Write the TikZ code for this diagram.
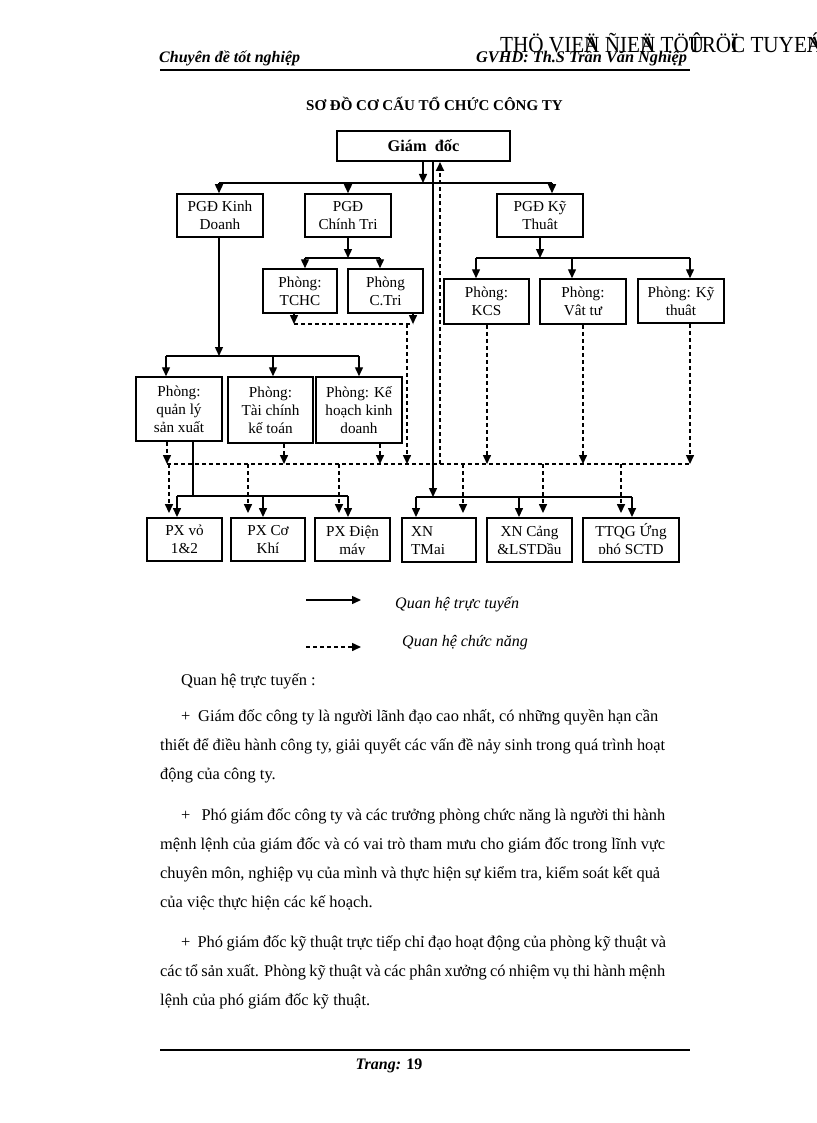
\documentclass[tikz,border=0pt]{standalone}
\usepackage{fontspec}
\setmainfont{Liberation Serif}
\usetikzlibrary{arrows.meta}
\newcommand\bxf{\fontsize{15.2}{18}\selectfont}
\newcommand\bdf{\fontsize{16.4}{29}\selectfont}
\begin{document}
\begin{tikzpicture}[x=1pt,y=-1pt,
  box/.style={draw, line width=1.5pt, inner sep=0pt, align=center, font=\bxf},
  bbox/.style={box, line width=1.9pt},
  txt/.style={inner sep=0pt, align=center, font=\bxf},
  sl/.style={line width=1.4pt},
  thin1/.style={line width=1.1pt},
  thk/.style={line width=2.3pt},
  dsh/.style={line width=1.5pt, dash pattern=on 4.2pt off 2.8pt},
  dshb/.style={line width=2pt, dash pattern=on 4.2pt off 2.8pt},
  arr/.style={-{Triangle[length=9pt,width=8pt]}},
  body/.style={inner sep=0pt, anchor=base west, font=\bdf}]
\useasboundingbox (0,0) rectangle (816,1123);
\fill[white] (0,0) rectangle (816,1123);

% ---------- header ----------
\node[anchor=base west, inner sep=0pt] (wm) at (500,53)
  {\scalebox{0.92}[1]{\fontsize{23}{24}\selectfont THÖ VIE\rlap{Ä}N ÑIE\rlap{Ä}N TÖ\rlap{Û}TRÖ\rlap{Ï}C TUYE\rlap{Á}N}};
\node[anchor=base west, inner sep=0pt] (h1) at (159,63)
  {\fontsize{16}{18}\selectfont\bfseries\itshape Chuyên đề tốt nghiệp};
\node[anchor=base west, inner sep=0pt] (h2) at (476,63)
  {\fontsize{16.3}{18}\selectfont\bfseries\itshape GVHD: Th.S Trần Văn Nghiệp};
\coordinate (hl) at (160,70); \coordinate (hr) at (690,70);
\draw[line width=2pt] (hl) -- (hr);

\node[anchor=base, inner sep=0pt] (title) at (434.5,111)
  {\fontsize{15}{18}\selectfont\bfseries SƠ ĐỒ CƠ CẤU TỔ CHỨC CÔNG TY};

% ---------- boxes ----------
\node[box, line width=2pt, minimum width=173pt, minimum height=30pt,
      font=\fontsize{16.3}{18}\selectfont\bfseries] (gd) at (423.5,146) {Giám\ \ đốc};

\node[box, minimum width=86pt, minimum height=43pt] (kd) at (220,215.5) {PGĐ Kinh\\Doanh};
\node[box, minimum width=86pt, minimum height=43pt] (ct) at (348,215.5) {PGĐ\\Chính Tri};
\node[box, minimum width=86pt, minimum height=43pt] (kt) at (540,215.5) {PGĐ Kỹ\\Thuât};

\node[box, minimum width=74pt, minimum height=44pt] (tchc) at (300,291) {Phòng:\\TCHC};
\node[box, minimum width=75pt, minimum height=44pt] (ctri) at (385.5,291) {Phòng\\C.Tri};

\node[box, minimum width=85pt, minimum height=45pt] (kcs) at (486.5,301.5) {Phòng:\\KCS};
\node[box, minimum width=86pt, minimum height=45pt] (vattu) at (583,301.5) {Phòng:\\Vât tư};
\node[box, minimum width=86pt, minimum height=44pt] (kythuat) at (681,301) {Phòng: Kỹ\\thuât};

\node[box, minimum width=86pt, minimum height=64pt] (qlsx) at (179,409) {Phòng:\\quản lý\\sản xuất};
\node[box, minimum width=85pt, minimum height=66pt] (tckt) at (270.5,410) {Phòng:\\Tài chính\\kế toán};
\node[box, minimum width=86pt, minimum height=66pt] (khkd) at (359,410) {Phòng: Kế\\hoạch kinh\\doanh};

\node[bbox, minimum width=75pt, minimum height=43pt] (pxvo) at (184.5,539.5) {PX vỏ\\1\&2};
\node[bbox, minimum width=74pt, minimum height=43pt] (pxck) at (268,539.5) {PX Cơ\\Khí};
\node[bbox, minimum width=75pt, minimum height=43pt] (pxdm) at (352.5,539.5) {};
\node[bbox, minimum width=74pt, minimum height=44pt] (xntm) at (439,540) {};
\node[bbox, minimum width=85pt, minimum height=44pt] (xnc) at (529.5,540) {};
\node[bbox, minimum width=96pt, minimum height=44pt] (ttqg) at (631,540) {};

\node[txt, anchor=west, align=left] (xntm-t) at (411,540.5) {XN\\TMai};
\begin{scope}
  \clip (315,518) rectangle (390,554);
  \node[txt] (pxdm-t) at (352.5,542) {PX Điện\\máy};
\end{scope}
\begin{scope}
  \clip (487,518) rectangle (572,553);
  \node[txt] (xnc-t) at (529.5,540.5) {XN Cảng\\\&LSTDầu};
\end{scope}
\begin{scope}
  \clip (583,518) rectangle (679,553);
  \node[txt] (ttqg-t) at (631,541) {TTQG Ứng\\phó SCTD};
\end{scope}

% ---------- top level connectors ----------
\coordinate (j0) at (423,183);
\coordinate (b1l) at (219,183);
\coordinate (b1c) at (348,183);
\coordinate (b1r) at (552,183);
\draw[thin1] (b1l) -- (b1r);
\draw[sl,arr] (gd.south -| j0) -- (j0);
\draw[sl,arr] (b1l) -- (kd.north -| b1l);
\draw[sl,arr] (b1c) -- (ct.north);
\draw[sl,arr] (b1r) -- (kt.north -| b1r);

\coordinate (v1) at (433,497);
\draw[sl,arr] (gd.south -| v1) -- (v1);
\coordinate (v2) at (440,464);
\draw[dshb,arr] (v2) -- (gd.south -| v2);

% Chinh Tri
\coordinate (b2m) at (348,258); \coordinate (b2l) at (305,258); \coordinate (b2r) at (380,258);
\draw[sl,arr] (ct.south) -- (b2m);
\draw[thk] (b2l) -- (b2r);
\draw[sl,arr] (b2l) -- (tchc.north -| b2l);
\draw[sl,arr] (b2r) -- (ctri.north -| b2r);

% Ky Thuat
\coordinate (b3m) at (540,258); \coordinate (b3l) at (476,258);
\coordinate (b3c) at (572,258); \coordinate (b3r) at (690,258);
\draw[sl,arr] (kt.south) -- (b3m);
\draw[thk] (b3l) -- (b3r);
\draw[sl,arr] (b3l) -- (kcs.north -| b3l);
\draw[sl,arr] (b3c) -- (vattu.north -| b3c);
\draw[sl,arr] (b3r) -- (kythuat.north -| b3r);

% Kinh Doanh
\coordinate (b4m) at (219,356); \coordinate (b4l) at (166,356);
\coordinate (b4c) at (273,356); \coordinate (b4r) at (359,356);
\draw[sl,arr] (kd.south -| b4m) -- (b4m);
\draw[thk] (b4l) -- (b4r);
\draw[sl,arr] (b4l) -- (qlsx.north -| b4l);
\draw[sl,arr] (b4c) -- (tckt.north -| b4c);
\draw[sl,arr] (b4r) -- (khkd.north -| b4r);

% dashed from TCHC / C.Tri
\coordinate (d1) at (294,324); \coordinate (d2) at (413,324); \coordinate (d3) at (407,464);
\draw[dsh,arr] (tchc.south -| d1) -- (d1);
\draw[dsh,arr] (ctri.south -| d2) -- (d2);
\draw[dsh] (d1) -- (d2);
\draw[dsh,arr] (d1 -| d3) -- (d3);

% dashed bus
\coordinate (dbl) at (167,464); \coordinate (dbr) at (690,464);
\coordinate (d4) at (284,464); \coordinate (d5) at (380,464);
\coordinate (d6) at (487,464); \coordinate (d7) at (583,464);
\draw[dsh] (dbl) -- (dbr);
\draw[dsh,arr] (qlsx.south -| dbl) -- (dbl);
\draw[dsh,arr] (tckt.south -| d4) -- (d4);
\draw[dsh,arr] (khkd.south -| d5) -- (d5);
\draw[dsh,arr] (kcs.south -| d6) -- (d6);
\draw[dsh,arr] (vattu.south -| d7) -- (d7);
\draw[dsh,arr] (kythuat.south -| dbr) -- (dbr);

% dashed drops to workshops
\coordinate (e1) at (169,464); \coordinate (e2) at (248,464); \coordinate (e3) at (339,464);
\coordinate (e4) at (463,464); \coordinate (e5) at (543,464); \coordinate (e6) at (621,464);
\draw[dsh,arr] (e1) -- ([yshift=4pt]pxvo.north -| e1);
\draw[dsh,arr] (e2) -- ([yshift=4pt]pxck.north -| e2);
\draw[dsh,arr] (e3) -- ([yshift=4pt]pxdm.north -| e3);
\draw[dsh,arr] (e4) -- ([yshift=4pt]xntm.north -| e4);
\draw[dsh,arr] (e5) -- ([yshift=4pt]xnc.north -| e5);
\draw[dsh,arr] (e6) -- ([yshift=4pt]ttqg.north -| e6);

% solid from quan ly san xuat
\coordinate (s1) at (193,496); \coordinate (s1l) at (177,496);
\coordinate (s1c) at (263,496); \coordinate (s1r) at (348,496);
\draw[sl] (qlsx.south -| s1) -- (s1);
\draw[sl] (s1l) -- (s1r);
\draw[sl,arr] (s1l) -- (pxvo.north -| s1l);
\draw[sl,arr] (s1c) -- (pxck.north -| s1c);
\draw[sl,arr] (s1r) -- (pxdm.north -| s1r);

% solid bus right
\coordinate (s2l) at (416,497); \coordinate (s2c) at (519,497); \coordinate (s2r) at (632,497);
\draw[sl] (s2l) -- (s2r);
\draw[sl,arr] (s2l) -- (xntm.north -| s2l);
\draw[sl,arr] (s2c) -- (xnc.north -| s2c);
\draw[sl,arr] (s2r) -- (ttqg.north -| s2r);

% ---------- legend ----------
\coordinate (la1) at (306,600); \coordinate (la2) at (361,600);
\coordinate (lb1) at (306,647); \coordinate (lb2) at (361,647);
\draw[sl,arr] (la1) -- (la2);
\draw[dsh,arr] (lb1) -- (lb2);
\node[anchor=base west, inner sep=0pt, font=\fontsize{16}{18}\selectfont\itshape] (lt1) at (395,608) {Quan hệ trực tuyến};
\node[anchor=base west, inner sep=0pt, font=\fontsize{16}{18}\selectfont\itshape] (lt2) at (402,646) {Quan hệ chức năng};

% ---------- body text ----------
\node[body] (p1) at (181,685) {Quan hệ trực tuyến :};
\node[body] (p2) at (181,721) {\makebox[477pt][s]{+\ \ Giám đốc công ty là người lãnh đạo cao nhất, có những quyền hạn cần}};
\node[body] (p3) at (160,750) {\makebox[505pt][s]{thiết để điều hành công ty, giải quyết các vấn đề nảy sinh trong quá trình hoạt}};
\node[body] (p4) at (160,779) {động của công ty.};
\node[body] (p5) at (181,820) {\makebox[484pt][s]{+\ \ \ Phó giám đốc công ty và các trưởng phòng chức năng là người thi hành}};
\node[body] (p6) at (160,849) {\makebox[505pt][s]{mệnh lệnh của giám đốc và có vai trò tham mưu cho giám đốc trong lĩnh vực}};
\node[body] (p7) at (160,878) {\makebox[500pt][s]{chuyên môn, nghiệp vụ của mình và thực hiện sự kiểm tra, kiểm soát kết quả}};
\node[body] (p8) at (160,907) {của việc thực hiện các kế hoạch.};
\node[body] (p9) at (181,947) {\makebox[485pt][s]{+\ \ Phó giám đốc kỹ thuật trực tiếp chỉ đạo hoạt động của phòng kỹ thuật và}};
\node[body] (p10) at (160,976) {\makebox[505pt][s]{các tổ sản xuất. Phòng kỹ thuật và các phân xưởng có nhiệm vụ thi hành mệnh}};
\node[body] (p11) at (160,1005) {lệnh của phó giám đốc kỹ thuật.};

% ---------- footer ----------
\coordinate (fl) at (160,1050); \coordinate (fr) at (690,1050);
\draw[line width=1.3pt] (fl) -- (fr);
\node[anchor=base, inner sep=0pt] (pg) at (389,1069)
  {\fontsize{16}{18}\selectfont\bfseries\itshape Trang: \upshape 19};
\end{tikzpicture}
\end{document}
